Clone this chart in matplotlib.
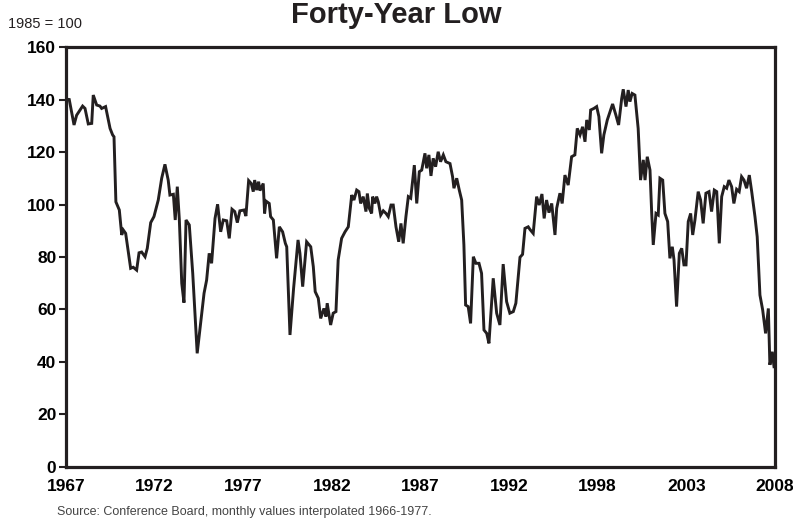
import matplotlib
matplotlib.use("Agg")
import matplotlib.pyplot as plt

plt.rcParams['font.family'] = ['Liberation Sans', 'DejaVu Sans']

# Consumer confidence index (1985 = 100)
years = [
    1967.04, 1967.19, 1967.47, 1967.62, 1967.97, 1968.11, 1968.30, 1968.50, 1968.59, 1968.79,
    1968.98, 1969.08, 1969.31, 1969.57, 1969.72, 1969.80, 1969.91, 1970.11, 1970.25, 1970.34,
    1970.48, 1970.77, 1970.92, 1971.12, 1971.26, 1971.41, 1971.61, 1971.74, 1971.94, 1972.13,
    1972.38, 1972.58, 1972.77, 1972.96, 1973.06, 1973.26, 1973.37, 1973.49, 1973.61, 1973.75,
    1973.88, 1974.00, 1974.19, 1974.39, 1974.65, 1974.85, 1975.05, 1975.20, 1975.35, 1975.49,
    1975.69, 1975.84, 1976.02, 1976.17, 1976.37, 1976.52, 1976.68, 1976.84, 1976.99, 1977.14,
    1977.38, 1977.49, 1977.65, 1977.80, 1977.92, 1978.00, 1978.12, 1978.23, 1978.31, 1978.50,
    1978.58, 1978.66, 1978.85, 1978.93, 1979.09, 1979.28, 1979.44, 1979.63, 1979.79, 1979.87,
    1980.06, 1980.27, 1980.53, 1980.64, 1980.80, 1981.03, 1981.27, 1981.42, 1981.53, 1981.71,
    1981.85, 1982.04, 1982.16, 1982.23, 1982.35, 1982.43, 1982.58, 1982.74, 1982.87, 1983.07,
    1983.27, 1983.46, 1983.66, 1983.79, 1983.95, 1984.08, 1984.18, 1984.33, 1984.49, 1984.57,
    1984.68, 1984.82, 1984.88, 1985.01, 1985.11, 1985.21, 1985.35, 1985.50, 1985.66, 1985.79,
    1985.95, 1986.08, 1986.24, 1986.40, 1986.53, 1986.66, 1986.82, 1986.96, 1987.10, 1987.31,
    1987.45, 1987.60, 1987.74, 1987.93, 1988.03, 1988.16, 1988.28, 1988.41, 1988.55, 1988.70,
    1988.84, 1989.00, 1989.15, 1989.39, 1989.54, 1989.62, 1989.78, 1989.93, 1990.07, 1990.20,
    1990.30, 1990.45, 1990.59, 1990.75, 1990.90, 1991.08, 1991.23, 1991.37, 1991.53, 1991.66,
    1991.91, 1992.11, 1992.30, 1992.49, 1992.69, 1992.88, 1993.08, 1993.23, 1993.47, 1993.62,
    1993.76, 1993.95, 1994.05, 1994.24, 1994.44, 1994.59, 1994.75, 1994.88, 1995.02, 1995.16,
    1995.32, 1995.51, 1995.61, 1995.80, 1995.93, 1996.09, 1996.28, 1996.48, 1996.67, 1996.81,
    1996.97, 1997.12, 1997.26, 1997.36, 1997.51, 1997.59, 1997.78, 1997.94, 1998.07, 1998.23,
    1998.36, 1998.56, 1998.87, 1999.06, 1999.22, 1999.40, 1999.49, 1999.65, 1999.78, 1999.88,
    2000.01, 2000.17, 2000.36, 2000.50, 2000.66, 2000.76, 2000.89, 2001.05, 2001.15, 2001.24,
    2001.40, 2001.53, 2001.63, 2001.79, 2001.92, 2002.08, 2002.21, 2002.35, 2002.45, 2002.60,
    2002.76, 2002.90, 2003.03, 2003.15, 2003.28, 2003.42, 2003.54, 2003.67, 2003.86, 2004.00,
    2004.15, 2004.31, 2004.49, 2004.64, 2004.80, 2004.94, 2005.09, 2005.23, 2005.38, 2005.52,
    2005.65, 2005.81, 2005.94, 2006.10, 2006.25, 2006.39, 2006.53, 2006.68, 2006.84, 2006.98,
    2007.17, 2007.30, 2007.46, 2007.62, 2007.79, 2007.95, 2008.04, 2008.18, 2008.28,
]
index = [
    140.1, 140.0, 130.3, 134.0, 137.5, 136.6, 130.7, 130.9, 141.7, 137.9,
    137.5, 136.6, 137.3, 129.0, 126.5, 125.8, 101.0, 97.9, 88.4, 90.3,
    89.0, 75.7, 76.1, 75.0, 81.6, 81.9, 80.1, 83.3, 93.1, 95.4,
    101.7, 110.0, 115.3, 109.3, 103.6, 103.9, 94.1, 106.8, 94.1, 70.0,
    62.6, 94.1, 92.2, 73.8, 43.3, 54.7, 66.2, 71.2, 81.4, 77.6,
    94.7, 100.1, 89.6, 94.1, 93.8, 87.1, 98.2, 97.3, 93.1, 97.6,
    97.9, 95.6, 109.1, 108.0, 104.9, 109.3, 105.5, 108.7, 105.3, 108.0,
    96.6, 101.3, 100.4, 95.4, 94.1, 79.5, 91.5, 89.6, 85.2, 83.9,
    50.3, 68.0, 86.5, 81.4, 68.7, 85.8, 83.9, 76.3, 66.8, 64.3,
    56.6, 60.4, 57.3, 62.4, 57.3, 54.1, 58.6, 59.2, 78.9, 87.1,
    89.6, 91.5, 103.6, 101.7, 105.5, 104.9, 100.4, 103.0, 97.3, 104.2,
    98.6, 96.6, 103.0, 100.4, 103.0, 101.0, 96.0, 97.6, 96.6, 95.4,
    99.8, 99.8, 91.5, 85.8, 92.8, 85.2, 95.4, 103.0, 102.4, 115.0,
    100.4, 112.5, 113.1, 119.5, 113.8, 118.9, 110.9, 117.6, 114.4, 120.1,
    116.3, 118.9, 116.3, 115.6, 110.6, 106.2, 110.0, 105.5, 101.7, 84.6,
    61.7, 61.1, 54.7, 80.1, 77.6, 77.6, 73.8, 52.2, 50.9, 47.1,
    71.9, 58.6, 54.1, 77.3, 63.0, 58.6, 59.2, 62.4, 79.9, 81.0,
    90.9, 91.5, 90.5, 89.0, 103.0, 99.8, 104.0, 94.7, 101.7, 96.9,
    100.4, 88.4, 98.6, 104.3, 100.4, 111.2, 107.4, 118.2, 118.9, 129.0,
    126.5, 129.6, 123.9, 132.2, 128.4, 136.0, 136.6, 137.3, 133.5, 119.5,
    126.5, 132.2, 138.3, 134.1, 130.3, 140.4, 143.9, 137.3, 143.6, 139.2,
    142.3, 141.7, 129.0, 109.3, 117.0, 109.3, 118.2, 113.1, 96.6, 84.6,
    96.6, 96.0, 110.0, 109.3, 96.6, 93.5, 79.5, 83.9, 78.9, 61.1,
    81.4, 83.3, 77.0, 77.0, 93.5, 96.6, 88.4, 94.1, 104.9, 101.7,
    92.8, 104.3, 104.9, 97.3, 105.5, 104.9, 85.2, 103.0, 106.8, 106.2,
    109.3, 106.8, 100.4, 105.8, 104.9, 110.6, 109.3, 106.2, 111.2, 104.9,
    95.4, 87.7, 65.5, 59.8, 50.9, 60.4, 38.9, 43.9, 38.2,
]

# x axis labels sit every 62 months from Jan 1967
tick_years = [1967 + 62 * k / 12 for k in range(9)]
tick_labels = ["1967", "1972", "1977", "1982", "1987", "1992", "1998", "2003", "2008"]
y_ticks = [0, 20, 40, 60, 80, 100, 120, 140, 160]

fig = plt.figure(figsize=(7.93, 5.23), dpi=100)
ax = fig.add_axes([0.0832, 0.1071, 0.894, 0.803])

ax.plot(years, index, color="#231f20", linewidth=2.1, solid_joinstyle="miter")

ax.set_xlim(tick_years[0], tick_years[-1])
ax.set_ylim(0, 160)
ax.set_yticks(y_ticks)
ax.set_yticklabels([str(v) for v in y_ticks], fontsize=12.5, fontweight="bold")
ax.set_xticks(tick_years)
ax.set_xticklabels(tick_labels, fontsize=12.5, fontweight="bold")
ax.tick_params(axis="y", direction="out", length=5, width=1.5, pad=2, color="#231f20")
ax.tick_params(axis="x", length=0, pad=9)

for s in ax.spines.values():
    s.set_linewidth(2.3)
    s.set_color("#231f20")

fig.text(0.5, 0.998, "Forty-Year Low", ha="center", va="top",
         fontsize=21, fontweight="bold", color="#231f20")
fig.text(0.01, 0.955, "1985 = 100", ha="left", va="center", fontsize=10.5, color="#231f20")
fig.text(0.072, 0.021, "Source: Conference Board, monthly values interpolated 1966-1977.",
         ha="left", va="center", fontsize=9, color="#444444")

fig.savefig("out.png", dpi=100)
